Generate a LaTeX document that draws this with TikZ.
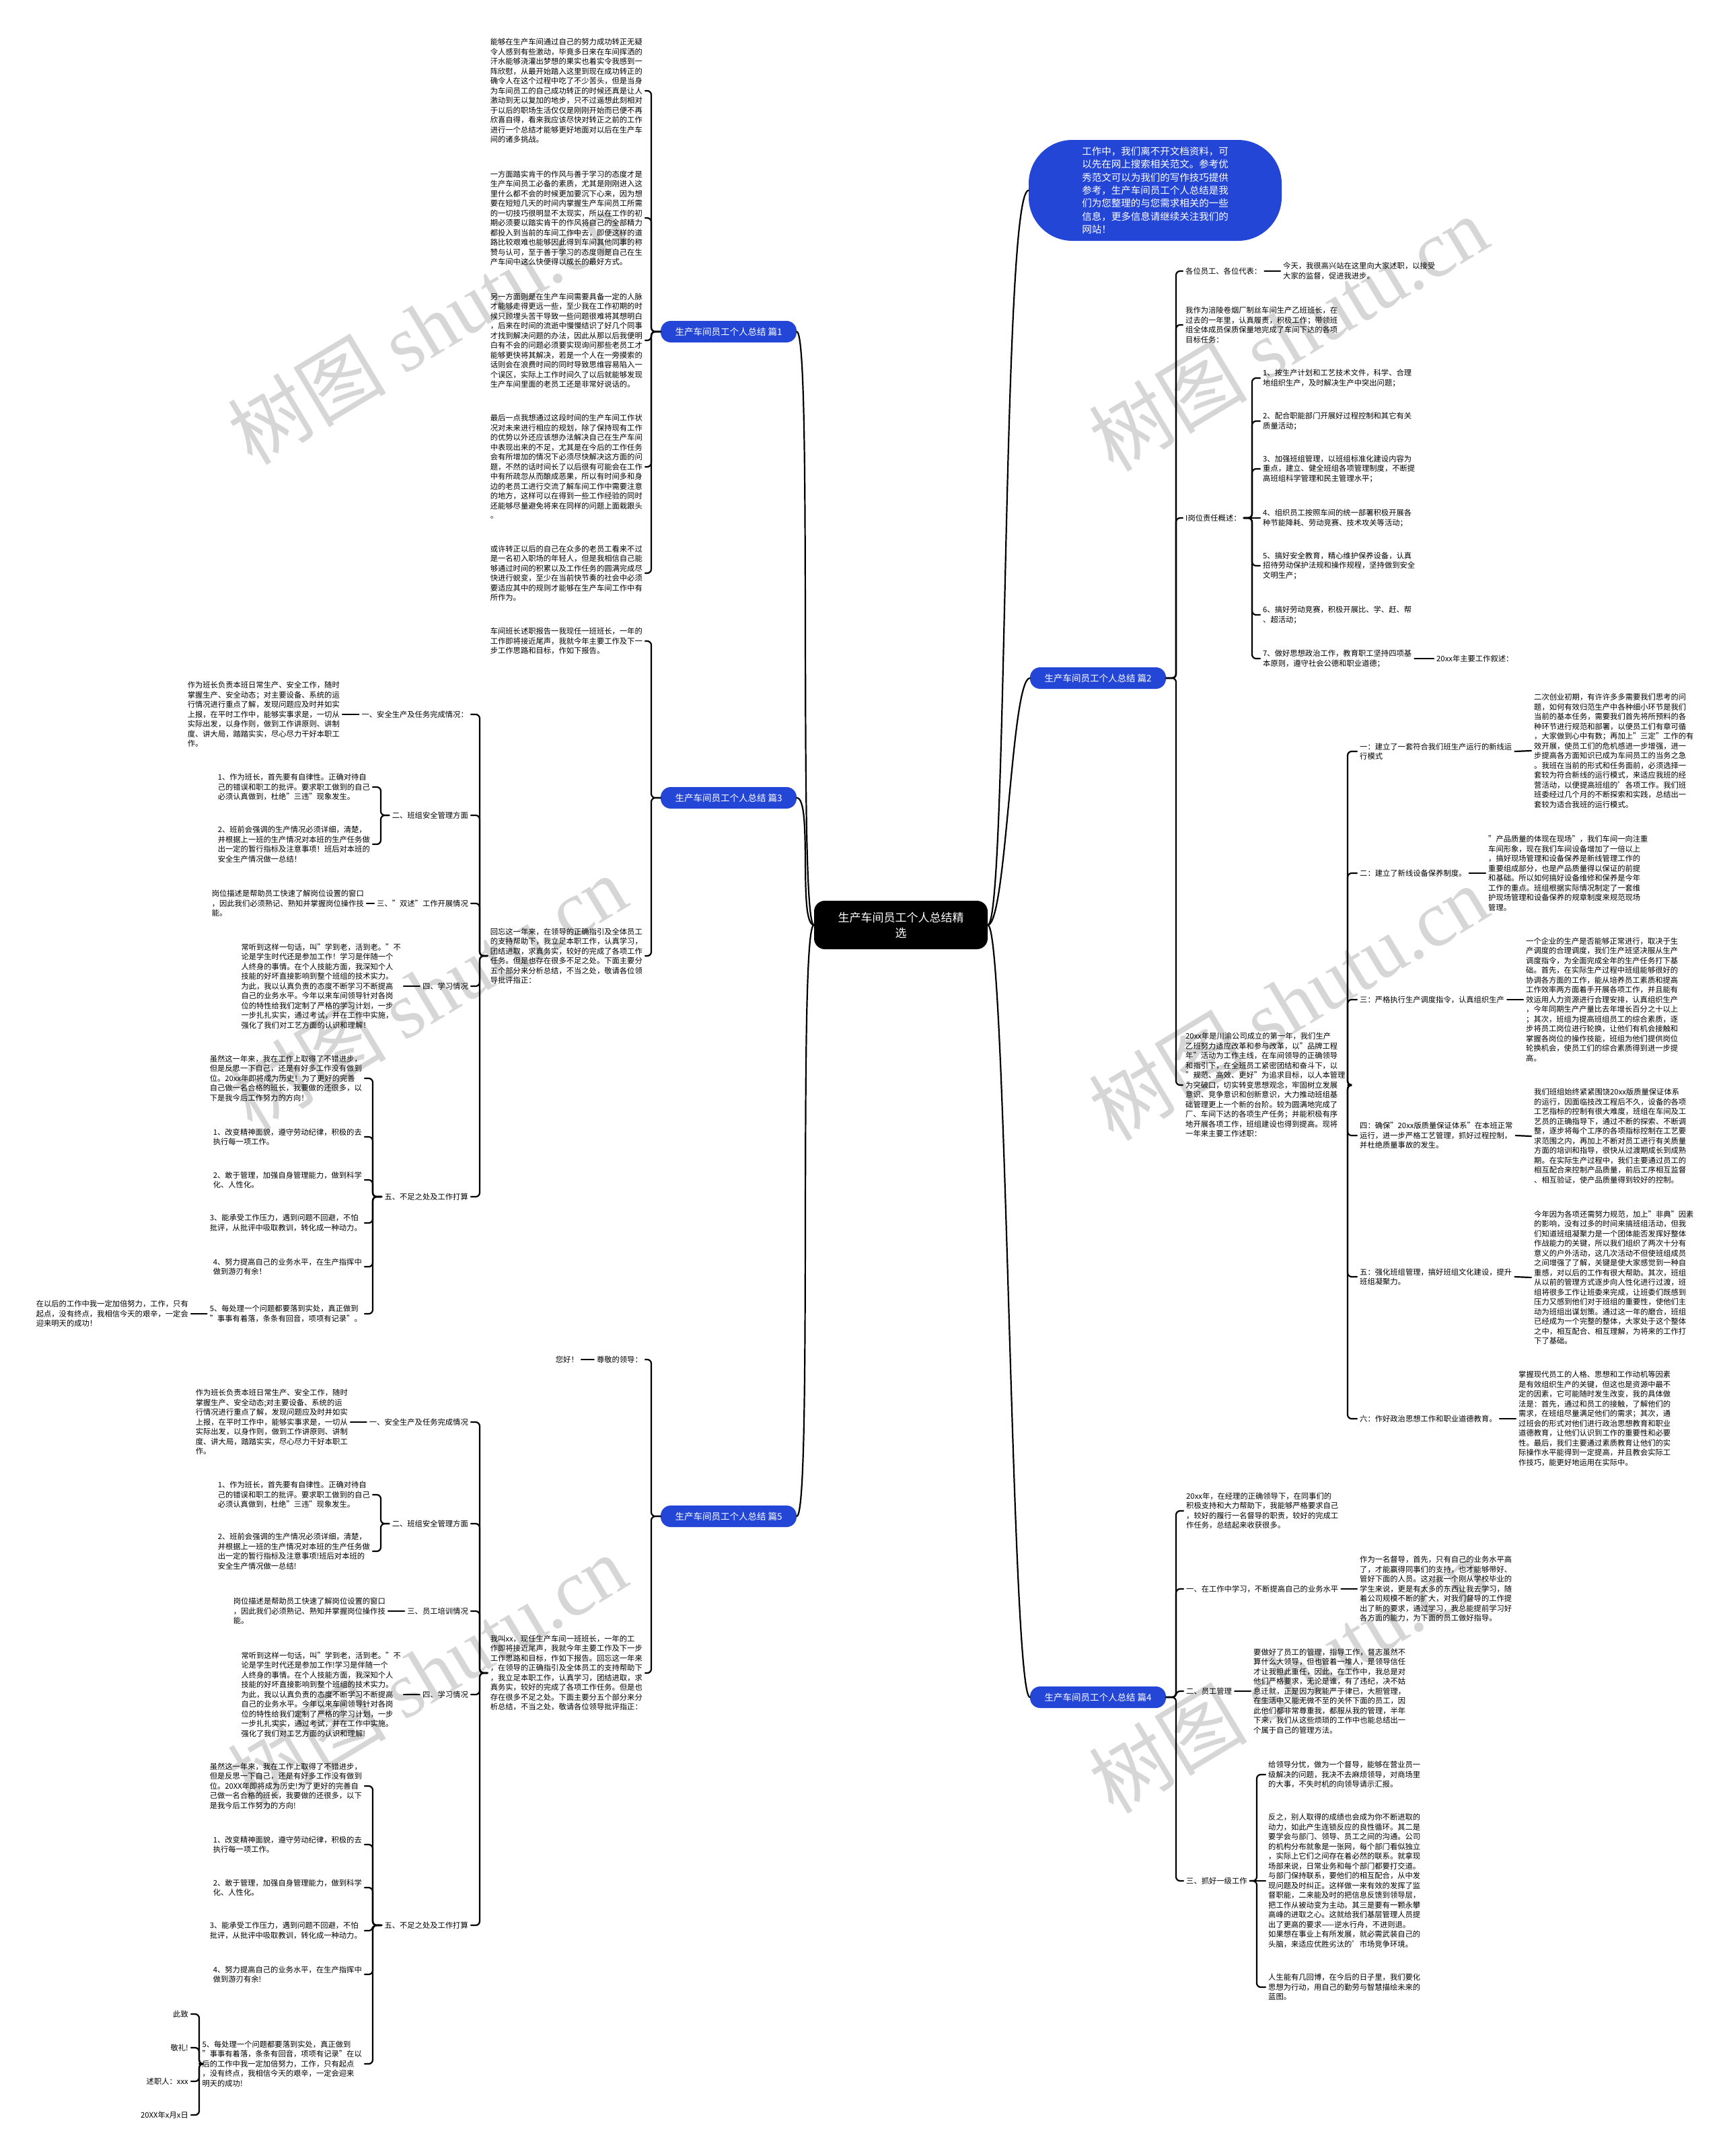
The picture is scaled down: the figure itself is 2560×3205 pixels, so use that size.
\documentclass[tikz,border=0pt]{standalone}
\usepackage{fontspec}
\setmainfont{Noto Sans CJK SC}
\newfontfamily\wmlatin{Liberation Serif}
\definecolor{pianblue}{RGB}{36,70,214}
\newcommand\bodyfs{\fontsize{11.3}{14.5}\selectfont}
\tikzset{
  txt/.style={inner xsep=4pt,inner ysep=1pt,align=left,font=\bodyfs},
  pian/.style={fill=pianblue,text=white,rounded corners=15pt,minimum width=202pt,minimum height=32pt,inner sep=0pt,font=\fontsize{13.5}{16}\selectfont},
  ln/.style={line width=2.2pt,rounded corners=6pt,line cap=round},
  wmk/.style={rotate=31,text=black!16,font=\fontsize{118}{118}\selectfont,inner sep=0pt},
}
\newcommand\cnR[3]{\draw[ln] (#1.east) -| ([xshift=-#3]#2.west) -- (#2.west);}
\newcommand\cnL[3]{\draw[ln] (#1.west) -| ([xshift=#3]#2.east) -- (#2.east);}
\newcommand\stR[2]{\draw[ln] (#1.east) -- (#2.west);}
\newcommand\stL[2]{\draw[ln] (#1.west) -- (#2.east);}
\begin{document}
\begin{tikzpicture}[x=1pt,y=-1pt]
\fill[white] (0,0) rectangle (2560,3205);
\useasboundingbox (0,0) rectangle (2560,3205);
% watermarks
\foreach \wx/\wy in {635/485,1915/495,635/1475,1915/1490,635/2485,1915/2490}
  \node[wmk] (wm\wx\wy) at (\wx,\wy) {树图 {\wmlatin shutu.cn}};

% root
\node[fill=black,text=white,rounded corners=16pt,minimum width=258pt,minimum height=72pt,align=center,font=\fontsize{17}{23}\selectfont] (root) at (1339,1375) {生产车间员工个人总结精\\选};

% branch nodes
\node[pian] (pian1) at (1083,493) {生产车间员工个人总结 篇1};
\node[pian] (pian3) at (1083,1186) {生产车间员工个人总结 篇3};
\node[pian] (pian5) at (1083,2254) {生产车间员工个人总结 篇5};
\node[pian] (pian2) at (1632,1008) {生产车间员工个人总结 篇2};
\node[pian] (pian4) at (1632,2523) {生产车间员工个人总结 篇4};
\node[fill=pianblue,text=white,rounded corners=65pt,minimum width=376pt,minimum height=150pt,align=left,font=\fontsize{14.5}{19.4}\selectfont] (ell) at (1717,283) {工作中，我们离不开文档资料，可\\以先在网上搜索相关范文。参考优\\秀范文可以为我们的写作技巧提供\\参考，生产车间员工个人总结是我\\们为您整理的与您需求相关的一些\\信息，更多信息请继续关注我们的\\网站！};

\draw[ln] (root.west) .. controls +(-24,0) and +(24,0) .. (pian1.east);
\draw[ln] (root.west) .. controls +(-24,0) and +(24,0) .. (pian3.east);
\draw[ln] (root.west) .. controls +(-24,0) and +(24,0) .. (pian5.east);
\draw[ln] (root.east) .. controls +(28,0) and +(-28,0) .. (pian2.west);
\draw[ln] (root.east) .. controls +(28,0) and +(-28,0) .. (pian4.west);
\draw[ln] (root.east) .. controls +(30,0) and +(-40,0) .. (ell.west);

% ================= 篇1 =================
\node[txt,anchor=east] (b11) at (959,135) {能够在生产车间通过自己的努力成功转正无疑\\令人感到有些激动，毕竟多日来在车间挥洒的\\汗水能够浇灌出梦想的果实也着实令我感到一\\阵欣慰，从最开始踏入这里到现在成功转正的\\确令人在这个过程中吃了不少苦头，但是当身\\为车间员工的自己成功转正的时候还真是让人\\激动到无以复加的地步，只不过遥想此刻相对\\于以后的职场生活仅仅是刚刚开始而已便不再\\欣喜自得，看来我应该尽快对转正之前的工作\\进行一个总结才能够更好地面对以后在生产车\\间的诸多挑战。};
\node[txt,anchor=east] (b12) at (959,324) {一方面踏实肯干的作风与善于学习的态度才是\\生产车间员工必备的素质，尤其是刚刚进入这\\里什么都不会的时候更加要沉下心来，因为想\\要在短短几天的时间内掌握生产车间员工所需\\的一切技巧很明显不太现实，所以在工作的初\\期必须要以踏实肯干的作风将自己的全部精力\\都投入到当前的车间工作中去，即便这样的道\\路比较艰难也能够因此得到车间其他同事的称\\赞与认可，至于善于学习的态度则是自己在生\\产车间中这么快便得以成长的最好方式。};
\node[txt,anchor=east] (b13) at (959,506) {另一方面则是在生产车间需要具备一定的人脉\\才能够走得更远一些，至少我在工作初期的时\\候只顾埋头苦干导致一些问题很难将其想明白\\，后来在时间的流逝中慢慢结识了好几个同事\\才找到解决问题的办法，因此从那以后我便明\\白有不会的问题必须要实现询问那些老员工才\\能够更快将其解决，若是一个人在一旁摸索的\\话则会在浪费时间的同时导致思维容易陷入一\\个误区，实际上工作时间久了以后就能够发现\\生产车间里面的老员工还是非常好说话的。};
\node[txt,anchor=east] (b14) at (959,694) {最后一点我想通过这段时间的生产车间工作状\\况对未来进行相应的规划，除了保持现有工作\\的优势以外还应该想办法解决自己在生产车间\\中表现出来的不足，尤其是在今后的工作任务\\会有所增加的情况下必须尽快解决这方面的问\\题，不然的话时间长了以后很有可能会在工作\\中有所疏忽从而酿成恶果，所以有时间多和身\\边的老员工进行交流了解车间工作中需要注意\\的地方，这样可以在得到一些工作经验的同时\\还能够尽量避免将来在同样的问题上面栽跟头\\。};
\node[txt,anchor=east] (b15) at (959,852) {或许转正以后的自己在众多的老员工看来不过\\是一名初入职场的年轻人，但是我相信自己能\\够通过时间的积累以及工作任务的圆满完成尽\\快进行蜕变，至少在当前快节奏的社会中必须\\要适应其中的规则才能够在生产车间工作中有\\所作为。};
\foreach \c in {b11,b12,b13,b14,b15} {\cnL{pian1}{\c}{9pt}}

% ================= 篇3 =================
\node[txt,anchor=east] (c31) at (959,953) {车间班长述职报告一我现任一班班长，一年的\\工作即将接近尾声，我就今年主要工作及下一\\步工作思路和目标，作如下报告。};
\node[txt,anchor=east] (c32) at (959,1421) {回忘这一年来，在领导的正确指引及全体员工\\的支持帮助下，我立足本职工作，认真学习，\\团结进取，求真务实，较好的完成了各项工作\\任务。但是也存在很多不足之处。下面主要分\\五个部分来分析总结，不当之处，敬请各位领\\导批评指正：};
\cnL{pian3}{c31}{9pt}
\cnL{pian3}{c32}{9pt}

\node[txt,anchor=east] (s1) at (700,1062) {一、安全生产及任务完成情况：};
\node[txt,anchor=east] (s2) at (700,1212) {二、班组安全管理方面};
\node[txt,anchor=east] (s3) at (700,1343) {三、"双述"工作开展情况};
\node[txt,anchor=east] (s4) at (700,1466) {四、学习情况};
\node[txt,anchor=east] (s5) at (700,1779) {五、不足之处及工作打算};
\foreach \c in {s1,s2,s3,s4,s5} {\cnL{c32}{\c}{13pt}}

\node[txt,anchor=east] (t1) at (509,1062) {作为班长负责本班日常生产、安全工作，随时\\掌握生产、安全动态；对主要设备、系统的运\\行情况进行重点了解，发现问题应及时并如实\\上报，在平时工作中，能够实事求是，一切从\\实际出发，以身作则，做到工作讲原则、讲制\\度、讲大局，踏踏实实，尽心尽力干好本职工\\作。};
\stL{s1}{t1}
\node[txt,anchor=east] (i21) at (554,1170) {1、作为班长，首先要有自律性。正确对待自\\己的错误和职工的批评。要求职工做到的自己\\必须认真做到，杜绝"三违"现象发生。};
\node[txt,anchor=east] (i22) at (554,1255) {2、班前会强调的生产情况必须详细，清楚，\\并根据上一班的生产情况对本班的生产任务做\\出一定的暂行指标及注意事项！班后对本班的\\安全生产情况做一总结！};
\cnL{s2}{i21}{12pt}
\cnL{s2}{i22}{12pt}
\node[txt,anchor=east] (t3) at (545,1343) {岗位描述是帮助员工快速了解岗位设置的窗口\\，因此我们必须熟记、熟知并掌握岗位操作技\\能。};
\stL{s3}{t3}
\node[txt,anchor=east] (t4) at (600,1466) {常听到这样一句话，叫"学到老，活到老。"不\\论是学生时代还是参加工作！学习是伴随一个\\人终身的事情。在个人技能方面，我深知个人\\技能的好坏直接影响到整个班组的技术实力。\\为此，我以认真负责的态度不断学习不断提高\\自己的业务水平。今年以来车间领导针对各岗\\位的特性给我们定制了严格的学习计划，一步\\一步扎扎实实，通过考试，并在工作中实施，\\强化了我们对工艺方面的认识和理解！};
\stL{s4}{t4}
\node[txt,anchor=east] (u1) at (542,1603) {虽然这一年来，我在工作上取得了不错进步，\\但是反思一下自己，还是有好多工作没有做到\\位。20xx年即将成为历史！为了更好的完善\\自己做一名合格的班长，我要做的还很多，以\\下是我今后工作努力的方向！};
\node[txt,anchor=east] (u2) at (542,1690) {1、改变精神面貌，遵守劳动纪律，积极的去\\执行每一项工作。};
\node[txt,anchor=east] (u3) at (542,1754) {2、敢于管理，加强自身管理能力，做到科学\\化、人性化。};
\node[txt,anchor=east] (u4) at (542,1818) {3、能承受工作压力，遇到问题不回避，不怕\\批评，从批评中吸取教训，转化成一种动力。};
\node[txt,anchor=east] (u5) at (542,1883) {4、努力提高自己的业务水平，在生产指挥中\\做到游刃有余！};
\node[txt,anchor=east] (u6) at (542,1953) {5、每处理一个问题都要落到实处，真正做到\\"事事有着落，条条有回音，项项有记录"。};
\foreach \c in {u1,u2,u3,u4,u5,u6} {\cnL{s5}{\c}{12pt}}
\node[txt,anchor=east] (g6) at (284,1953) {在以后的工作中我一定加倍努力，工作，只有\\起点，没有终点，我相信今天的艰辛，一定会\\迎来明天的成功！};
\stL{u6}{g6}

% ================= 篇5 =================
\node[txt,anchor=east] (d1) at (959,2021) {尊敬的领导：};
\node[txt,anchor=east] (dd1) at (864,2021) {您好！};
\stL{d1}{dd1}
\node[txt,anchor=east] (d2) at (959,2487) {我叫xx，现任生产车间一班班长，一年的工\\作即将接近尾声，我就今年主要工作及下一步\\工作思路和目标，作如下报告。回忘这一年来\\，在领导的正确指引及全体员工的支持帮助下\\，我立足本职工作，认真学习，团结进取，求\\真务实，较好的完成了各项工作任务。但是也\\存在很多不足之处。下面主要分五个部分来分\\析总结，不当之处，敬请各位领导批评指正：};
\cnL{pian5}{d1}{9pt}
\cnL{pian5}{d2}{9pt}

\node[txt,anchor=east] (e1) at (700,2114) {一、安全生产及任务完成情况};
\node[txt,anchor=east] (e2) at (700,2265) {二、班组安全管理方面};
\node[txt,anchor=east] (e3) at (700,2395) {三、员工培训情况};
\node[txt,anchor=east] (e4) at (700,2519) {四、学习情况};
\node[txt,anchor=east] (e5) at (700,2862) {五、不足之处及工作打算};
\foreach \c in {e1,e2,e3,e4,e5} {\cnL{d2}{\c}{13pt}}

\node[txt,anchor=east] (et1) at (521,2114) {作为班长负责本班日常生产、安全工作，随时\\掌握生产、安全动态;对主要设备、系统的运\\行情况进行重点了解，发现问题应及时并如实\\上报，在平时工作中，能够实事求是，一切从\\实际出发，以身作则，做到工作讲原则、讲制\\度、讲大局，踏踏实实，尽心尽力干好本职工\\作。};
\stL{e1}{et1}
\node[txt,anchor=east] (ei1) at (554,2222) {1、作为班长，首先要有自律性。正确对待自\\己的错误和职工的批评。要求职工做到的自己\\必须认真做到，杜绝"三违"现象发生。};
\node[txt,anchor=east] (ei2) at (554,2306) {2、班前会强调的生产情况必须详细，清楚，\\并根据上一班的生产情况对本班的生产任务做\\出一定的暂行指标及注意事项!班后对本班的\\安全生产情况做一总结!};
\cnL{e2}{ei1}{12pt}
\cnL{e2}{ei2}{12pt}
\node[txt,anchor=east] (et3) at (577,2395) {岗位描述是帮助员工快速了解岗位设置的窗口\\，因此我们必须熟记、熟知并掌握岗位操作技\\能。};
\stL{e3}{et3}
\node[txt,anchor=east] (et4) at (600,2519) {常听到这样一句话，叫"学到老，活到老。"不\\论是学生时代还是参加工作!学习是伴随一个\\人终身的事情。在个人技能方面，我深知个人\\技能的好坏直接影响到整个班组的技术实力。\\为此，我以认真负责的态度不断学习不断提高\\自己的业务水平。今年以来车间领导针对各岗\\位的特性给我们定制了严格的学习计划，一步\\一步扎扎实实，通过考试，并在工作中实施。\\强化了我们对工艺方面的认识和理解!};
\stL{e4}{et4}
\node[txt,anchor=east] (v1) at (542,2655) {虽然这一年来，我在工作上取得了不错进步，\\但是反思一下自己，还是有好多工作没有做到\\位。20XX年即将成为历史!为了更好的完善自\\己做一名合格的班长，我要做的还很多，以下\\是我今后工作努力的方向!};
\node[txt,anchor=east] (v2) at (542,2742) {1、改变精神面貌，遵守劳动纪律，积极的去\\执行每一项工作。};
\node[txt,anchor=east] (v3) at (542,2806) {2、敢于管理，加强自身管理能力，做到科学\\化、人性化。};
\node[txt,anchor=east] (v4) at (542,2870) {3、能承受工作压力，遇到问题不回避，不怕\\批评，从批评中吸取教训，转化成一种动力。};
\node[txt,anchor=east] (v5) at (542,2935) {4、努力提高自己的业务水平，在生产指挥中\\做到游刃有余!};
\node[txt,anchor=east] (v6) at (542,3068) {5、每处理一个问题都要落到实处，真正做到\\"事事有着落，条条有回音，项项有记录"在以\\后的工作中我一定加倍努力，工作，只有起点\\，没有终点，我相信今天的艰辛，一定会迎来\\明天的成功!};
\foreach \c in {v1,v2,v3,v4,v5,v6} {\cnL{e5}{\c}{12pt}}
\node[txt,anchor=east] (w1) at (284,2994) {此致};
\node[txt,anchor=east] (w2) at (284,3044) {敬礼!};
\node[txt,anchor=east] (w3) at (284,3094) {述职人：xxx};
\node[txt,anchor=east] (w4) at (284,3144) {20XX年x月x日};
\foreach \c in {w1,w2,w3,w4} {\cnL{v6}{\c}{12pt}}

% ================= 篇2 =================
\node[txt,anchor=west] (r1) at (1758,403) {各位员工、各位代表：};
\node[txt,anchor=west] (r1t) at (1903,403) {今天，我很高兴站在这里向大家述职，以接受\\大家的监督，促进我进步。};
\stR{r1}{r1t}
\node[txt,anchor=west] (r2) at (1758,483) {我作为涪陵卷烟厂制丝车间生产乙班班长，在\\过去的一年里，认真履责，积极工作；带领班\\组全体成员保质保量地完成了车间下达的各项\\目标任务：};
\node[txt,anchor=west] (r3) at (1758,770) {I岗位责任概述：};
\node[txt,anchor=west] (r4) at (1758,1613) {20xx年是川渝公司成立的第一年，我们生产\\乙班努力适应改革和参与改革，以"品牌工程\\年"活动为工作主线，在车间领导的正确领导\\和指引下，在全班员工紧密团结和奋斗下，以\\"规范、高效、更好"为追求目标，以人本管理\\为突破口，切实转变思想观念，牢固树立发展\\意识、竞争意识和创新意识，大力推动班组基\\础管理更上一个新的台阶。较为圆满地完成了\\厂、车间下达的各项生产任务；并能积极有序\\地开展各项工作，班组建设也得到提高。现将\\一年来主要工作述职：};
\foreach \c in {r1,r2,r3,r4} {\cnR{pian2}{\c}{10pt}}

\node[txt,anchor=west] (p1) at (1873,562) {1、按生产计划和工艺技术文件，科学、合理\\地组织生产，及时解决生产中突出问题；};
\node[txt,anchor=west] (p2) at (1873,626) {2、配合职能部门开展好过程控制和其它有关\\质量活动；};
\node[txt,anchor=west] (p3) at (1873,697) {3、加强班组管理，以班组标准化建设内容为\\重点，建立、健全班组各项管理制度，不断提\\高班组科学管理和民主管理水平；};
\node[txt,anchor=west] (p4) at (1873,770) {4、组织员工按照车间的统一部署积极开展各\\种节能降耗、劳动竞赛、技术攻关等活动；};
\node[txt,anchor=west] (p5) at (1873,841) {5、搞好安全教育，精心维护保养设备，认真\\招待劳动保护法规和操作规程，坚持做到安全\\文明生产；};
\node[txt,anchor=west] (p6) at (1873,914) {6、搞好劳动竞赛，积极开展比、学、赶、帮\\、超活动；};
\node[txt,anchor=west] (p7) at (1873,979) {7、做好思想政治工作，教育职工坚持四项基\\本原则，遵守社会公德和职业道德；};
\foreach \c in {p1,p2,p3,p5,p6,p7} {\cnR{r3}{\c}{12pt}}
\stR{r3}{p4}
\node[txt,anchor=west] (p7a) at (2131,979) {20xx年主要工作叙述：};
\stR{p7}{p7a}

\node[txt,anchor=west] (k1) at (2017,1117) {一：建立了一套符合我们班生产运行的新线运\\行模式};
\node[txt,anchor=west] (k2) at (2017,1298) {二：建立了新线设备保养制度。};
\node[txt,anchor=west] (k3) at (2017,1486) {三：严格执行生产调度指令，认真组织生产};
\node[txt,anchor=west] (k4) at (2017,1688) {四：确保"20xx版质量保证体系"在本班正常\\运行，进一步严格工艺管理，抓好过程控制，\\并杜绝质量事故的发生。};
\node[txt,anchor=west] (k5) at (2017,1898) {五：强化班组管理，搞好班组文化建设，提升\\班组凝聚力。};
\node[txt,anchor=west] (k6) at (2017,2109) {六：作好政治思想工作和职业道德教育。};
\foreach \c in {k1,k2,k3,k4,k5,k6} {\cnR{r4}{\c}{14pt}}

\node[txt,anchor=west] (kd1) at (2276,1116) {二次创业初期，有许许多多需要我们思考的问\\题，如何有效归范生产中各种细小环节是我们\\当前的基本任务，需要我们首先将所预料的各\\种环节进行规范和部署，以便员工们有章可循\\，大家做到心中有数；再加上"三定"工作的有\\效开展，使员工们的危机感进一步增强，进一\\步提高各方面知识已成为车间员工的当务之急\\。我班在当前的形式和任务面前，必须选择一\\套较为符合新线的运行模式，来适应我班的经\\营活动，以便提高班组的'各项工作。我们班\\班委经过几个月的不断探索和实践，总结出一\\套较为适合我班的运行模式。};
\node[txt,anchor=west] (kd2) at (2208,1298) {"产品质量的体现在现场"，我们车间一向注重\\车间形象，现在我们车间设备增加了一倍以上\\，搞好现场管理和设备保养是新线管理工作的\\重要组成部分，也是产品质量得以保证的前提\\和基础。所以如何搞好设备维修和保养是今年\\工作的重点。班组根据实际情况制定了一套维\\护现场管理和设备保养的规章制度来规范现场\\管理。};
\node[txt,anchor=west] (kd3) at (2264,1486) {一个企业的生产是否能够正常进行，取决于生\\产调度的合理调度，我们生产班坚决服从生产\\调度指令，为全面完成全年的生产任务打下基\\础。首先，在实际生产过程中班组能够很好的\\协调各方面的工作，能从培养员工素质和提高\\工作效率两方面着手开展各项工作，并且能有\\效运用人力资源进行合理安排，认真组织生产\\，今年同期生产产量比去年增长百分之十以上\\；其次，班组为提高班组员工的综合素质，逐\\步将员工岗位进行轮换，让他们有机会接触和\\掌握各岗位的操作技能，班组为他们提供岗位\\轮换机会，使员工们的综合素质得到进一步提\\高。};
\node[txt,anchor=west] (kd4) at (2276,1689) {我们班组始终紧紧围饶20xx版质量保证体系\\的运行，因面临技改工程后不久，设备的各项\\工艺指标的控制有很大难度，班组在车间及工\\艺员的正确指导下，通过不断的探索、不断调\\整，逐步将每个工序的各项指标控制在工艺要\\求范围之内，再加上不断对员工进行有关质量\\方面的培训和指导，很快从过渡期成长到成熟\\期。在实际生产过程中，我们主要通过员工的\\相互配合来控制产品质量，前后工序相互监督\\、相互验证，使产品质量得到较好的控制。};
\node[txt,anchor=west] (kd5) at (2276,1899) {今年因为各项还需努力规范，加上"非典"因素\\的影响，没有过多的时间来搞班组活动，但我\\们知道班组凝聚力是一个团体能否发挥好整体\\作战能力的关键，所以我们组织了两次十分有\\意义的户外活动，这几次活动不但使班组成员\\之间增强了了解，关键是使大家感觉到一种自\\重感，对以后的工作有很大帮助。其次，班组\\从以前的管理方式逐步向人性化进行过渡，班\\组将很多工作让班委来完成，让班委们既感到\\压力又感到他们对于班组的重要性，使他们主\\动为班组出谋划策。通过这一年的磨合，班组\\已经成为一个完整的整体，大家处于这个整体\\之中，相互配合、相互理解，为将来的工作打\\下了基础。};
\node[txt,anchor=west] (kd6) at (2253,2109) {掌握现代员工的人格、思想和工作动机等因素\\是有效组织生产的关键，但这也是资源中最不\\定的因素，它可能随时发生改变，我的具体做\\法是：首先，通过和员工的接触，了解他们的\\需求，在班组尽量满足他们的需求；其次，通\\过班会的形式对他们进行政治思想教育和职业\\道德教育，让他们认识到工作的重要性和必要\\性。最后，我们主要通过素质教育让他们的实\\际操作水平能得到一定提高，并且教会实际工\\作技巧，能更好地运用在实际中。};
\stR{k1}{kd1}
\stR{k2}{kd2}
\stR{k3}{kd3}
\stR{k4}{kd4}
\stR{k5}{kd5}
\stR{k6}{kd6}

% ================= 篇4 =================
\node[txt,anchor=west] (q1) at (1759,2246) {20xx年，在经理的正确领导下，在同事们的\\积极支持和大力帮助下，我能够严格要求自己\\，较好的履行一名督导的职责，较好的完成工\\作任务，总结起来收获很多。};
\node[txt,anchor=west] (q2) at (1759,2362) {一、在工作中学习，不断提高自己的业务水平};
\node[txt,anchor=west] (q3) at (1759,2514) {二、员工管理};
\node[txt,anchor=west] (q4) at (1759,2796) {三、抓好一级工作};
\foreach \c in {q1,q2,q3,q4} {\cnR{pian4}{\c}{11pt}}
\node[txt,anchor=west] (q2t) at (2017,2362) {作为一名督导，首先，只有自己的业务水平高\\了，才能赢得同事们的支持，也才能够带好、\\管好下面的人员。这对我一个刚从学校毕业的\\学生来说，更是有太多的东西让我去学习，随\\着公司规模不断的扩大，对我们督导的工作提\\出了新的要求，通过学习，我总能提前学习好\\各方面的能力，为下面的员工做好指导。};
\stR{q2}{q2t}
\node[txt,anchor=west] (q3t) at (1859,2514) {要做好了员工的管理，指导工作，督志虽然不\\算什么大领导，但也管着一堆人，是领导信任\\才让我担此重任，因此，在工作中，我总是对\\他们严格要求，无论是谁，有了违纪，决不姑\\息迁就，正是因为我能严于律已，大胆管理，\\在生活中又能无微不至的关怀下面的员工，因\\此他们都非常尊重我，都服从我的管理，半年\\下来，我们从这些烦琐的工作中也能总结出一\\个属于自己的管理方法。};
\stR{q3}{q3t}
\node[txt,anchor=west] (q4a) at (1881,2638) {给领导分忧，做为一个督导，能够在营业员一\\级解决的问题，我决不去麻烦领导，对商场里\\的大事，不失时机的向领导请示汇报。};
\node[txt,anchor=west] (q4b) at (1881,2796) {反之，别人取得的成绩也会成为你不断进取的\\动力，如此产生连锁反应的良性循环。其二是\\要学会与部门、领导、员工之间的沟通。公司\\的机构分布就象是一张网，每个部门看似独立\\，实际上它们之间存在着必然的联系。就拿现\\场部来说，日常业务和每个部门都要打交道。\\与部门保持联系，要他们的相互配合，从中发\\现问题及时纠正。这样做一来有效的发挥了监\\督职能，二来能及时的把信息反馈到领导层，\\把工作从被动变为主动。其三是要有一颗永攀\\高峰的进取之心。这就给我们基层管理人员提\\出了更高的要求——逆水行舟，不进则退。\\如果想在事业上有所发展，就必需武装自己的\\头脑，来适应优胜劣汰的'市场竞争环境。};
\node[txt,anchor=west] (q4c) at (1881,2954) {人生能有几回博，在今后的日子里，我们要化\\思想为行动，用自己的勤劳与智慧描绘未来的\\蓝图。};
\cnR{q4}{q4a}{13pt}
\cnR{q4}{q4c}{13pt}
\stR{q4}{q4b}
\end{tikzpicture}
\end{document}
